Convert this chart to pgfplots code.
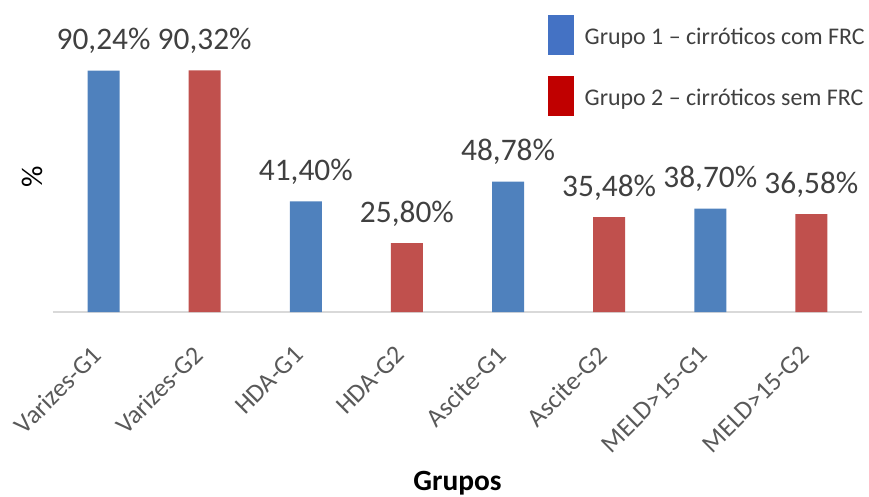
\documentclass[border=0pt]{standalone}
\usepackage{pgfplots}
\pgfplotsset{compat=1.18}
\usepackage{fontspec}
\setmainfont{Carlito}
\definecolor{barblue}{HTML}{4F81BD}
\definecolor{barred}{HTML}{C0504D}
\definecolor{legblue}{HTML}{4472C4}
\definecolor{legred}{HTML}{C00000}
\definecolor{ticktext}{HTML}{595959}
\definecolor{labeltext}{HTML}{404040}

\begin{document}
\begin{tikzpicture}
\useasboundingbox (-53bp,-185bp) rectangle (816bp,312bp);
\begin{axis}[
  scale only axis, width=809bp, height=292bp,
  xmin=-0.5, xmax=7.5, ymin=0, ymax=109.2,
  ybar, bar width=32bp, bar shift=0pt,
  axis x line=bottom, axis y line=none,
  axis line style={-, draw=black!15, line width=1.5bp},
  xtick={0,...,7}, xtick style={draw=none}, ytick=\empty,
  xticklabels={Varizes-G1, Varizes-G2, HDA-G1, HDA-G2, Ascite-G1, Ascite-G2, MELD>15-G1, MELD>15-G2},
  xticklabel style={xshift=-13bp, yshift=-30bp, rotate=45, anchor=north east, inner sep=0pt,
    font=\fontsize{26}{31}\selectfont, text=ticktext},
  xlabel={Grupos},
  xlabel style={at={(axis description cs:0.5,0)}, anchor=base, yshift=-178.5bp,
    font=\bfseries\fontsize{29.5}{35}\selectfont, text=black},
  clip=false,
  nodes near coords={\pgfmathprintnumber{\pgfplotspointmeta}\%},
  /pgf/number format/.cd, fixed, fixed zerofill, precision=2, use comma, assume math mode=true,
  /pgfplots/.cd,
  every node near coord/.append style={anchor=base, yshift=20.7bp, inner sep=0pt,
    font=\fontsize{31.5}{38}\selectfont, text=labeltext},
  legend style={at={(axis description cs:0.612,1.017)}, anchor=north west,
    draw=none, fill=none, inner sep=0pt, row sep=21bp, column sep=11bp,
    nodes={inner sep=0pt, text=labeltext, font=\fontsize{24}{29}\selectfont},
    cells={anchor=west}},
]
\addlegendimage{legend image code/.code={\fill[legblue] (0bp,-19.5bp) rectangle (25bp,19.5bp);}}
\addlegendentry{\raisebox{-10.5bp}[0pt][0pt]{Grupo 1 – cirróticos com FRC}}
\addlegendimage{legend image code/.code={\fill[legred] (0bp,-19.5bp) rectangle (25bp,19.5bp);}}
\addlegendentry{\raisebox{-10.5bp}[0pt][0pt]{Grupo 2 – cirróticos sem FRC}}

% Grupo 1
\addplot[fill=barblue, draw=none, forget plot] coordinates {(0,90.24) (2,41.40) (4,48.78) (6,38.70)};
% Grupo 2
\addplot[fill=barred, draw=none, forget plot] coordinates {(1,90.32) (3,25.80) (5,35.48) (7,36.58)};

\node[rotate=90, font=\fontsize{30}{36}\selectfont] at (axis description cs:-0.026,0.462) {\%};
\end{axis}
\end{tikzpicture}
\end{document}
